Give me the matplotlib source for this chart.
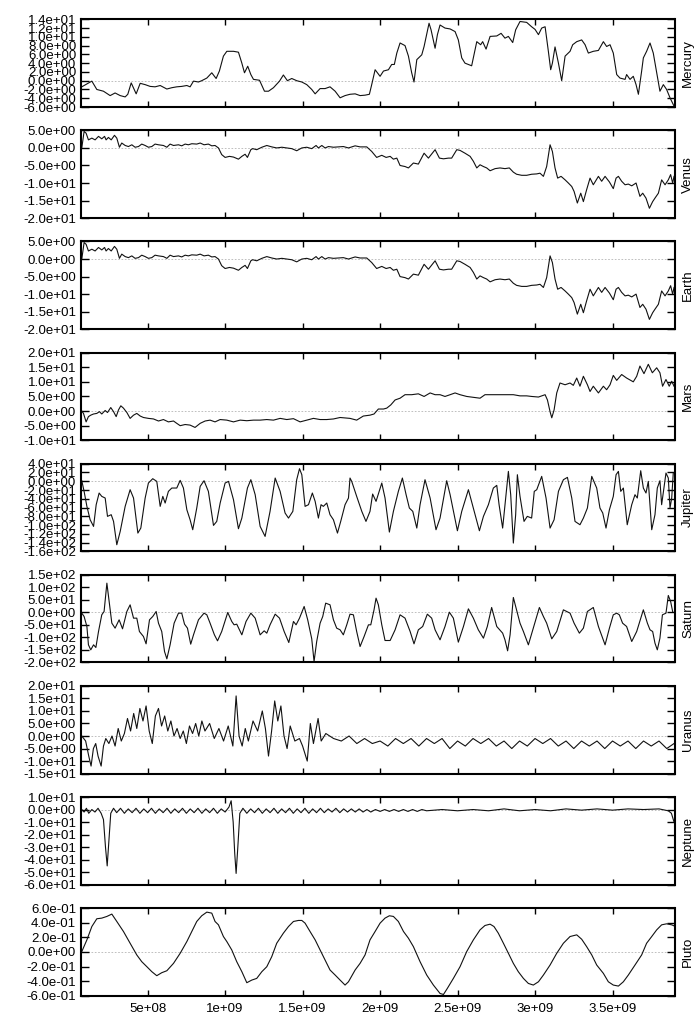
import numpy as np
import matplotlib.pyplot as plt
from matplotlib.ticker import FormatStrFormatter

# time in units of 1e9, value in the panel's own units
mercury = [
    (0.075, -1.4), (0.140, -0.1), (0.172, -2.0), (0.215, -2.4), (0.258, -3.4), (0.290, -2.8),
    (0.323, -3.4), (0.355, -3.7), (0.372, -3.1), (0.394, -0.5), (0.426, -3.0), (0.452, -0.6),
    (0.484, -0.9), (0.516, -1.3), (0.548, -1.4), (0.581, -1.1), (0.624, -1.9), (0.656, -1.6),
    (0.688, -1.4), (0.720, -1.3), (0.753, -1.1), (0.774, -1.4), (0.796, -0.1), (0.828, -0.3),
    (0.849, 0.0), (0.882, 0.6), (0.914, 1.8), (0.942, 0.5), (0.963, 2.2), (0.989, 5.6),
    (1.011, 6.7), (1.054, 6.7), (1.086, 6.5), (1.108, 4.0), (1.125, 1.8), (1.146, 3.3),
    (1.166, 1.4), (1.183, 0.3), (1.222, 0.1), (1.254, -2.4), (1.280, -2.4), (1.312, -1.6),
    (1.351, -0.1), (1.376, 1.3), (1.402, 0.0), (1.430, 0.5), (1.462, 0.0), (1.495, -0.3),
    (1.527, -0.9), (1.559, -2.0), (1.581, -3.0), (1.613, -1.8), (1.645, -1.8), (1.677, -1.4),
    (1.710, -2.4), (1.742, -3.9), (1.774, -3.4), (1.806, -3.1), (1.839, -3.0), (1.871, -3.4),
    (1.903, -3.3), (1.931, -3.1), (1.946, -0.9), (1.968, 2.5), (2.000, 1.0), (2.022, 2.2),
    (2.054, 2.5), (2.075, 3.7), (2.092, 3.7), (2.108, 6.3), (2.129, 8.6), (2.161, 8.0),
    (2.183, 5.6), (2.204, 1.8), (2.219, -0.3), (2.237, 4.8), (2.269, 5.9), (2.284, 7.8),
    (2.316, 13.1), (2.329, 11.6), (2.355, 7.4), (2.370, 10.5), (2.387, 12.7), (2.419, 12.0),
    (2.452, 11.8), (2.484, 11.2), (2.505, 9.3), (2.527, 5.2), (2.548, 4.0), (2.591, 3.4),
    (2.624, 8.9), (2.649, 8.2), (2.662, 8.9), (2.684, 7.2), (2.710, 10.1), (2.753, 10.2),
    (2.781, 10.8), (2.806, 9.7), (2.828, 10.1), (2.856, 8.7), (2.875, 11.6), (2.903, 13.5),
    (2.946, 13.3), (2.978, 12.3), (3.000, 11.7), (3.022, 10.5), (3.043, 12.0), (3.065, 12.3),
    (3.086, 6.7), (3.101, 2.5), (3.112, 4.0), (3.129, 7.7), (3.151, 4.0), (3.172, 0.0),
    (3.194, 5.6), (3.226, 6.7), (3.243, 8.2), (3.269, 8.9), (3.301, 9.3), (3.323, 8.2),
    (3.344, 6.3), (3.376, 6.7), (3.409, 6.9), (3.441, 8.9), (3.462, 7.8), (3.484, 8.2),
    (3.505, 6.3), (3.527, 1.4), (3.548, 0.6), (3.581, 0.3), (3.591, 1.4), (3.613, 0.3),
    (3.634, 1.0), (3.652, -0.9), (3.667, -3.1), (3.688, 2.2), (3.699, 5.2), (3.720, 6.7),
    (3.742, 8.6), (3.763, 6.3), (3.785, 1.8), (3.806, -2.4), (3.828, -0.9), (3.849, -2.0),
    (3.871, -3.9), (3.897, -5.8),
]

venus = [
    (0.075, 0.0), (0.090, 4.7), (0.103, 4.2), (0.118, 2.3), (0.140, 2.8), (0.161, 2.3),
    (0.183, 3.3), (0.204, 2.6), (0.222, 3.3), (0.232, 2.3), (0.247, 3.0), (0.265, 2.3),
    (0.286, 3.6), (0.301, 2.8), (0.318, 0.2), (0.333, 1.4), (0.355, 0.7), (0.376, 0.4),
    (0.398, 0.9), (0.419, 0.2), (0.441, 0.4), (0.462, 1.1), (0.484, 0.7), (0.505, 0.2),
    (0.527, 0.4), (0.548, 1.1), (0.570, 0.9), (0.602, 0.7), (0.624, 0.2), (0.645, 1.1),
    (0.667, 0.7), (0.699, 0.9), (0.720, 0.6), (0.742, 1.1), (0.763, 0.9), (0.785, 1.2),
    (0.817, 1.1), (0.839, 1.4), (0.864, 0.9), (0.892, 1.1), (0.914, 0.6), (0.935, 0.7),
    (0.957, 0.0), (0.978, -1.9), (1.000, -2.7), (1.028, -2.4), (1.054, -2.6), (1.086, -3.2),
    (1.108, -2.4), (1.129, -1.8), (1.144, -2.7), (1.166, -0.5), (1.178, -0.2), (1.204, -0.5),
    (1.237, 0.2), (1.269, 0.7), (1.301, 0.3), (1.333, 0.0), (1.366, 0.2), (1.398, 0.0),
    (1.430, -0.2), (1.462, -0.8), (1.495, 0.0), (1.527, 0.2), (1.559, -0.2), (1.587, 0.7),
    (1.602, 0.0), (1.624, 0.7), (1.645, 0.0), (1.667, 0.4), (1.699, 0.2), (1.731, 0.3),
    (1.763, 0.4), (1.796, 0.0), (1.839, 0.6), (1.871, 0.3), (1.914, 0.3), (1.946, -1.0),
    (1.978, -2.7), (2.011, -2.1), (2.039, -2.7), (2.065, -2.4), (2.086, -3.2), (2.108, -2.9),
    (2.129, -5.0), (2.161, -5.3), (2.183, -5.7), (2.215, -4.3), (2.247, -4.6), (2.284, -1.5),
    (2.312, -2.9), (2.355, -0.5), (2.383, -2.9), (2.409, -3.1), (2.441, -2.9), (2.462, -2.9),
    (2.495, -0.5), (2.516, -0.7), (2.548, -1.5), (2.581, -2.4), (2.602, -3.8), (2.624, -5.7),
    (2.645, -4.8), (2.667, -5.3), (2.688, -5.7), (2.710, -6.5), (2.742, -5.9), (2.774, -5.7),
    (2.806, -5.9), (2.834, -5.7), (2.860, -6.9), (2.881, -7.5), (2.914, -7.8), (2.946, -7.8),
    (2.978, -7.5), (3.011, -7.4), (3.032, -7.2), (3.054, -8.1), (3.075, -5.3), (3.097, 0.9),
    (3.112, -1.0), (3.129, -5.7), (3.146, -8.6), (3.168, -8.1), (3.194, -9.1), (3.215, -10.0),
    (3.237, -11.0), (3.252, -12.4), (3.273, -15.7), (3.295, -12.9), (3.312, -15.3), (3.333, -11.9),
    (3.355, -8.6), (3.376, -10.5), (3.409, -8.1), (3.430, -9.5), (3.452, -8.1), (3.480, -9.7),
    (3.505, -11.6), (3.523, -8.6), (3.538, -8.1), (3.559, -9.5), (3.581, -10.5), (3.602, -10.3),
    (3.624, -10.8), (3.652, -10.0), (3.677, -13.8), (3.695, -12.9), (3.716, -14.3), (3.738, -17.2),
    (3.759, -15.3), (3.774, -14.3), (3.796, -12.9), (3.817, -9.1), (3.839, -10.5), (3.860, -9.1),
    (3.875, -7.6), (3.888, -10.0), (3.897, -8.1),
]

earth = list(venus)

mars = [
    (0.075, 0.0), (0.086, -0.8), (0.103, -3.7), (0.118, -1.9), (0.133, -1.4), (0.151, -1.0),
    (0.172, -0.8), (0.189, -0.2), (0.204, -1.0), (0.226, 0.2), (0.241, -0.5), (0.262, 1.2),
    (0.280, -0.2), (0.297, -1.9), (0.312, 0.4), (0.327, 1.8), (0.344, 1.0), (0.366, -0.5),
    (0.387, -2.5), (0.409, -1.4), (0.430, -0.8), (0.452, -1.7), (0.473, -2.2), (0.505, -2.5),
    (0.538, -2.7), (0.570, -3.4), (0.602, -2.9), (0.634, -3.7), (0.667, -3.4), (0.688, -4.2),
    (0.710, -5.0), (0.742, -4.6), (0.774, -4.8), (0.806, -5.6), (0.839, -4.2), (0.871, -3.4),
    (0.903, -3.1), (0.935, -3.7), (0.968, -2.9), (1.011, -3.1), (1.054, -3.7), (1.097, -3.1),
    (1.140, -3.3), (1.183, -3.1), (1.226, -3.1), (1.269, -2.9), (1.312, -3.1), (1.355, -2.5),
    (1.398, -2.9), (1.441, -2.6), (1.484, -3.7), (1.527, -3.1), (1.570, -2.5), (1.613, -2.9),
    (1.656, -2.9), (1.699, -2.7), (1.742, -2.2), (1.806, -2.5), (1.849, -3.1), (1.892, -1.7),
    (1.935, -1.4), (1.961, -1.0), (1.989, 0.7), (2.022, 0.7), (2.043, 1.0), (2.069, 2.1),
    (2.097, 3.8), (2.129, 4.4), (2.161, 5.6), (2.204, 5.6), (2.247, 5.9), (2.284, 5.0),
    (2.323, 6.2), (2.355, 5.6), (2.387, 5.6), (2.419, 5.0), (2.452, 5.6), (2.484, 6.2),
    (2.516, 5.6), (2.559, 5.0), (2.602, 4.7), (2.645, 4.4), (2.677, 5.6), (2.731, 5.6),
    (2.796, 5.6), (2.860, 5.6), (2.903, 5.2), (2.946, 5.2), (2.978, 5.0), (3.022, 4.8),
    (3.065, 5.6), (3.080, 3.8), (3.097, -0.2), (3.108, -2.3), (3.123, 0.4), (3.140, 6.2),
    (3.161, 9.6), (3.194, 9.0), (3.226, 9.6), (3.247, 8.8), (3.269, 11.3), (3.290, 8.5),
    (3.312, 11.9), (3.338, 9.0), (3.355, 6.7), (3.376, 8.5), (3.409, 6.2), (3.441, 8.5),
    (3.462, 7.3), (3.484, 9.0), (3.505, 12.2), (3.527, 10.5), (3.559, 12.5), (3.591, 11.3),
    (3.634, 10.0), (3.656, 11.9), (3.677, 15.4), (3.703, 12.8), (3.731, 16.0), (3.757, 13.1),
    (3.785, 14.8), (3.806, 13.1), (3.823, 8.5), (3.845, 10.8), (3.866, 8.5), (3.882, 10.2),
    (3.897, 8.5),
]

jupiter = [
    (0.075, 1.2), (0.090, -23.1), (0.108, -57.3), (0.129, -87.8), (0.151, -103.0), (0.168, -53.5),
    (0.187, -26.9), (0.204, -34.5), (0.226, -38.3), (0.241, -80.1), (0.265, -76.3), (0.280, -91.6),
    (0.301, -144.8), (0.323, -114.4), (0.355, -57.3), (0.387, -19.3), (0.409, -38.3), (0.437, -118.2),
    (0.456, -106.8), (0.484, -38.3), (0.505, -4.1), (0.533, 5.8), (0.559, -0.3), (0.581, -57.3),
    (0.598, -34.5), (0.613, -49.7), (0.634, -23.1), (0.656, -15.5), (0.688, -15.5), (0.710, 2.0),
    (0.731, -15.5), (0.753, -64.9), (0.774, -87.8), (0.791, -110.6), (0.817, -61.1), (0.839, -11.7),
    (0.864, 1.2), (0.892, -23.1), (0.925, -100.7), (0.946, -91.6), (0.968, -49.7), (1.000, -4.1),
    (1.022, -0.3), (1.054, -42.1), (1.086, -108.3), (1.108, -84.0), (1.144, -15.5), (1.166, 3.5),
    (1.194, -30.7), (1.226, -103.0), (1.258, -125.8), (1.290, -68.7), (1.323, 7.3), (1.355, -23.1),
    (1.387, -72.5), (1.409, -84.0), (1.437, -68.7), (1.462, 3.5), (1.480, 28.6), (1.495, 14.9),
    (1.516, -57.3), (1.538, -53.5), (1.563, -26.9), (1.581, -45.9), (1.602, -84.0), (1.619, -53.5),
    (1.634, -57.3), (1.656, -49.7), (1.677, -76.3), (1.699, -87.8), (1.725, -118.2), (1.746, -91.6),
    (1.774, -53.5), (1.796, -38.3), (1.806, 7.3), (1.817, -0.3), (1.849, -34.5), (1.882, -68.7),
    (1.909, -91.6), (1.935, -68.7), (1.952, -29.2), (1.974, -45.9), (2.011, -4.1), (2.032, -38.3),
    (2.060, -115.9), (2.086, -68.7), (2.118, -23.1), (2.144, 7.3), (2.168, -30.7), (2.189, -61.1),
    (2.211, -68.7), (2.237, -106.8), (2.258, -53.5), (2.290, 3.5), (2.323, -38.3), (2.361, -110.6),
    (2.387, -84.0), (2.430, 1.2), (2.452, -30.7), (2.499, -112.9), (2.527, -68.7), (2.570, -19.3),
    (2.613, -76.3), (2.641, -112.9), (2.667, -80.1), (2.699, -53.5), (2.731, -15.5), (2.753, -9.4),
    (2.768, -53.5), (2.791, -106.8), (2.806, -53.5), (2.828, 22.5), (2.843, -30.7), (2.860, -141.0),
    (2.875, -76.3), (2.886, 14.9), (2.903, -34.5), (2.929, -91.6), (2.950, -80.1), (2.978, -84.0),
    (2.995, -23.1), (3.011, -19.3), (3.043, 11.1), (3.071, -38.3), (3.097, -106.8), (3.123, -87.8),
    (3.151, -23.1), (3.183, 3.5), (3.209, 8.8), (3.237, -38.3), (3.258, -91.6), (3.290, -99.2),
    (3.312, -84.0), (3.338, -61.1), (3.366, 11.1), (3.398, -15.5), (3.419, -61.1), (3.437, -72.5),
    (3.458, -106.8), (3.480, -64.9), (3.505, -34.5), (3.523, 14.9), (3.538, 22.5), (3.553, -23.1),
    (3.570, -15.5), (3.595, -99.2), (3.624, -53.5), (3.645, -30.7), (3.660, -38.3), (3.682, 24.0),
    (3.699, -15.5), (3.716, -26.9), (3.731, -0.3), (3.753, -110.6), (3.774, -76.3), (3.789, -15.5),
    (3.806, 1.2), (3.817, -53.5), (3.832, -15.5), (3.845, 18.7), (3.860, 7.3), (3.871, -61.1),
    (3.882, -38.3), (3.892, 18.7),
]

saturn = [
    (0.075, -3.1), (0.090, -16.4), (0.108, -56.3), (0.118, -129.5), (0.133, -149.5), (0.151, -129.5),
    (0.166, -140.1), (0.183, -76.3), (0.204, -9.7), (0.219, 3.6), (0.237, 116.7), (0.254, 30.2),
    (0.269, -43.0), (0.290, -62.9), (0.316, -29.7), (0.338, -65.6), (0.366, 3.6), (0.387, 30.2),
    (0.409, -23.0), (0.430, -23.0), (0.447, -76.3), (0.473, -96.2), (0.490, -125.5), (0.512, -29.7),
    (0.533, -16.4), (0.555, 3.6), (0.570, -43.0), (0.591, -76.3), (0.609, -156.1), (0.624, -185.4),
    (0.645, -129.5), (0.671, -43.0), (0.699, -3.1), (0.720, -3.1), (0.738, -47.0), (0.757, -62.9),
    (0.778, -126.8), (0.796, -89.6), (0.828, -29.7), (0.864, -3.1), (0.882, -9.7), (0.903, -43.0),
    (0.931, -89.6), (0.951, -113.5), (0.978, -76.3), (1.017, -0.4), (1.043, -36.3), (1.058, -49.6),
    (1.075, -47.0), (1.108, -89.6), (1.135, -36.3), (1.166, -3.1), (1.194, -23.0), (1.226, -89.6),
    (1.252, -73.6), (1.269, -82.9), (1.290, -49.6), (1.323, -7.1), (1.351, -23.0), (1.381, -76.3),
    (1.411, -120.2), (1.441, -36.3), (1.458, -49.6), (1.480, -23.0), (1.510, 23.6), (1.533, -29.7),
    (1.559, -105.5), (1.574, -196.0), (1.591, -116.2), (1.613, -43.0), (1.630, -16.4), (1.649, 36.9),
    (1.677, 30.2), (1.699, -29.7), (1.720, -62.9), (1.742, -69.6), (1.763, -89.6), (1.785, -49.6),
    (1.806, -7.1), (1.828, -9.7), (1.849, -76.3), (1.871, -136.2), (1.897, -96.2), (1.925, -49.6),
    (1.940, -49.6), (1.961, 10.2), (1.974, 56.8), (1.989, 30.2), (2.011, -49.6), (2.032, -112.2),
    (2.065, -112.2), (2.097, -69.6), (2.129, -9.7), (2.161, -23.0), (2.194, -76.3), (2.219, -125.5),
    (2.247, -69.6), (2.275, -56.3), (2.305, -7.1), (2.333, -23.0), (2.355, -69.6), (2.387, -109.5),
    (2.419, -56.3), (2.447, 0.9), (2.473, -23.0), (2.505, -118.8), (2.538, -56.3), (2.570, 14.2),
    (2.602, -23.0), (2.634, -69.6), (2.667, -102.9), (2.692, -56.3), (2.720, 19.6), (2.753, -56.3),
    (2.791, -82.9), (2.806, -109.5), (2.823, -153.4), (2.839, -89.6), (2.860, 59.5), (2.881, 10.2),
    (2.903, -43.0), (2.925, -76.3), (2.957, -129.5), (2.989, -62.9), (3.028, 19.6), (3.054, -16.4),
    (3.075, -43.0), (3.108, -105.5), (3.140, -76.3), (3.183, 10.2), (3.226, -3.1), (3.252, -43.0),
    (3.286, -82.9), (3.312, -62.9), (3.338, 3.6), (3.376, 19.6), (3.409, -56.3), (3.452, -129.5),
    (3.480, -62.9), (3.505, -9.7), (3.527, -3.1), (3.544, -9.7), (3.565, -43.0), (3.591, -56.3),
    (3.624, -116.2), (3.656, -76.3), (3.699, 10.2), (3.725, -43.0), (3.742, -69.6), (3.759, -76.3),
    (3.774, -122.8), (3.789, -149.5), (3.806, -102.9), (3.822, -9.7), (3.845, -3.1), (3.860, 67.5),
    (3.875, 43.5), (3.888, 3.6),
]

uranus = [
    (0.075, 0.0), (0.100, -2.0), (0.120, -8.0), (0.135, -12.0), (0.150, -5.0), (0.165, -3.0),
    (0.180, -8.0), (0.200, -12.0), (0.215, -4.0), (0.230, -1.0), (0.250, -3.0), (0.270, 0.0),
    (0.290, -4.0), (0.310, 3.0), (0.330, -2.0), (0.350, 1.0), (0.370, 7.0), (0.390, 2.0),
    (0.410, 9.0), (0.430, 3.0), (0.450, 11.0), (0.470, 6.0), (0.490, 12.0), (0.510, 2.0),
    (0.530, -3.0), (0.550, 8.0), (0.570, 11.0), (0.590, 4.0), (0.610, 8.0), (0.630, 2.0),
    (0.650, 6.0), (0.670, 0.0), (0.690, 3.0), (0.710, -1.0), (0.730, 2.0), (0.750, -3.0),
    (0.770, 4.0), (0.790, 1.0), (0.810, 5.0), (0.830, 0.0), (0.850, 6.0), (0.870, 2.0),
    (0.900, 5.0), (0.930, -1.0), (0.960, 3.0), (0.990, -2.0), (1.020, 4.0), (1.050, -4.0),
    (1.071, 16.0), (1.090, 0.0), (1.110, -4.0), (1.130, 3.0), (1.150, -2.0), (1.180, 6.0),
    (1.210, 2.0), (1.240, 10.0), (1.260, 3.0), (1.280, -8.0), (1.300, 2.0), (1.320, 14.0),
    (1.340, 6.0), (1.360, 12.0), (1.380, 0.0), (1.400, -5.0), (1.420, 4.0), (1.450, -2.0),
    (1.480, -1.0), (1.500, -4.0), (1.530, -10.0), (1.550, 5.0), (1.570, -3.0), (1.600, 7.0),
    (1.620, -2.0), (1.650, 1.0), (1.700, -1.0), (1.750, -2.0), (1.800, 0.0), (1.850, -3.0),
    (1.900, -1.0), (1.950, -3.0), (2.000, -2.0), (2.050, -4.0), (2.100, -1.0), (2.150, -3.0),
    (2.200, -1.0), (2.250, -4.0), (2.300, -1.0), (2.350, -3.0), (2.400, -1.0), (2.450, -5.0),
    (2.500, -2.0), (2.550, -4.0), (2.600, -1.0), (2.650, -3.0), (2.700, -1.0), (2.750, -4.0),
    (2.800, -2.0), (2.850, -5.0), (2.900, -2.0), (2.950, -4.0), (3.000, -1.0), (3.050, -3.0),
    (3.100, -1.0), (3.150, -4.0), (3.200, -2.0), (3.250, -5.0), (3.300, -2.0), (3.350, -4.0),
    (3.400, -2.0), (3.450, -5.0), (3.500, -2.0), (3.550, -4.0), (3.600, -2.0), (3.650, -5.0),
    (3.700, -2.0), (3.750, -4.0), (3.800, -2.0), (3.850, -5.0), (3.897, -3.0),
]

neptune = [
    (0.075, 0.0), (0.090, -2.0), (0.105, 1.0), (0.120, -3.0), (0.140, 0.0), (0.160, -2.0),
    (0.180, 1.0), (0.200, -3.0), (0.215, -8.0), (0.228, -30.0), (0.239, -45.0), (0.250, -25.0),
    (0.262, -3.0), (0.280, 1.0), (0.300, -2.5), (0.325, 1.0), (0.350, -3.0), (0.375, 0.5),
    (0.400, -2.5), (0.425, 1.0), (0.450, -3.0), (0.475, 0.5), (0.500, -2.5), (0.525, 1.0),
    (0.550, -3.0), (0.575, 0.5), (0.600, -2.5), (0.625, 1.0), (0.650, -3.0), (0.675, 0.5),
    (0.700, -2.5), (0.725, 1.0), (0.750, -3.0), (0.775, 0.5), (0.800, -2.5), (0.825, 1.0),
    (0.850, -3.0), (0.875, 0.5), (0.900, -2.5), (0.925, 1.0), (0.950, -3.0), (0.975, 0.5),
    (1.000, -2.0), (1.025, 2.0), (1.039, 7.0), (1.052, -10.0), (1.062, -35.0), (1.071, -51.0),
    (1.082, -30.0), (1.095, -3.0), (1.115, 1.0), (1.140, -3.0), (1.165, 0.5), (1.190, -2.5),
    (1.215, 1.0), (1.240, -3.0), (1.265, 0.5), (1.290, -2.5), (1.315, 1.0), (1.340, -3.0),
    (1.365, 0.5), (1.390, -2.5), (1.415, 1.0), (1.440, -3.0), (1.465, 0.5), (1.490, -2.5),
    (1.515, 1.0), (1.540, -3.0), (1.565, 0.5), (1.590, -2.5), (1.615, 1.0), (1.640, -2.5),
    (1.665, 0.5), (1.690, -2.0), (1.715, 1.0), (1.740, -2.5), (1.765, 0.5), (1.790, -2.0),
    (1.815, 0.5), (1.840, -2.0), (1.865, 0.5), (1.890, -2.0), (1.915, 0.0), (1.940, -2.0),
    (1.970, 0.0), (2.000, -1.5), (2.030, 0.0), (2.060, -1.5), (2.090, 0.0), (2.120, -1.5),
    (2.150, 0.0), (2.180, -1.5), (2.210, 0.0), (2.240, -1.5), (2.270, 0.0), (2.300, -1.0),
    (2.400, 0.0), (2.500, -1.0), (2.600, 0.0), (2.700, -1.0), (2.800, 0.5), (2.900, -1.0),
    (3.000, 0.0), (3.100, -1.0), (3.200, 0.5), (3.300, -0.5), (3.400, 0.5), (3.500, -0.5),
    (3.600, 0.5), (3.700, 0.0), (3.800, 0.5), (3.860, -1.0), (3.880, -3.0), (3.897, -10.0),
]

pluto = [
    (0.075, 0.005), (0.108, 0.165), (0.140, 0.348), (0.172, 0.454), (0.204, 0.463), (0.237, 0.486),
    (0.269, 0.518), (0.301, 0.417), (0.344, 0.280), (0.387, 0.119), (0.430, -0.041), (0.462, -0.133),
    (0.495, -0.202), (0.527, -0.270), (0.559, -0.325), (0.591, -0.284), (0.624, -0.257), (0.667, -0.156),
    (0.710, -0.018), (0.753, 0.142), (0.785, 0.280), (0.817, 0.417), (0.849, 0.495), (0.882, 0.545),
    (0.914, 0.531), (0.935, 0.417), (0.957, 0.371), (0.989, 0.211), (1.011, 0.142), (1.043, 0.027),
    (1.075, -0.133), (1.108, -0.270), (1.140, -0.421), (1.172, -0.385), (1.204, -0.362), (1.237, -0.270),
    (1.269, -0.202), (1.301, -0.064), (1.333, 0.119), (1.376, 0.257), (1.409, 0.348), (1.441, 0.417),
    (1.473, 0.431), (1.495, 0.431), (1.516, 0.394), (1.548, 0.280), (1.581, 0.165), (1.613, 0.027),
    (1.645, -0.110), (1.677, -0.247), (1.710, -0.316), (1.742, -0.385), (1.774, -0.453), (1.796, -0.408),
    (1.839, -0.247), (1.871, -0.156), (1.903, -0.041), (1.935, 0.165), (1.968, 0.280), (2.000, 0.394),
    (2.032, 0.463), (2.060, 0.495), (2.086, 0.486), (2.118, 0.417), (2.151, 0.280), (2.183, 0.188),
    (2.215, 0.073), (2.258, -0.133), (2.301, -0.316), (2.344, -0.453), (2.387, -0.568), (2.409, -0.582),
    (2.434, -0.499), (2.473, -0.362), (2.516, -0.202), (2.559, 0.005), (2.602, 0.165), (2.645, 0.302),
    (2.677, 0.362), (2.710, 0.380), (2.735, 0.348), (2.763, 0.257), (2.796, 0.119), (2.828, -0.018),
    (2.860, -0.156), (2.892, -0.270), (2.925, -0.362), (2.957, -0.431), (2.989, -0.453), (3.022, -0.408),
    (3.054, -0.316), (3.097, -0.179), (3.140, -0.018), (3.183, 0.119), (3.226, 0.211), (3.269, 0.234),
    (3.301, 0.174), (3.333, 0.073), (3.366, -0.041), (3.398, -0.179), (3.441, -0.293), (3.473, -0.408),
    (3.505, -0.453), (3.538, -0.467), (3.570, -0.408), (3.602, -0.316), (3.645, -0.179), (3.688, -0.041),
    (3.720, 0.119), (3.753, 0.211), (3.785, 0.302), (3.817, 0.371), (3.849, 0.385), (3.882, 0.371),
    (3.897, 0.357),
]

names = ["Mercury", "Venus", "Earth", "Mars", "Jupiter", "Saturn", "Uranus", "Neptune", "Pluto"]
series = [mercury, venus, earth, mars, jupiter, saturn, uranus, neptune, pluto]
y_limits = [(-6, 14), (-20, 5), (-20, 5), (-10, 20), (-160, 40), (-200, 150), (-15, 20), (-60, 10), (-0.6, 0.6)]
y_steps = [2, 5, 5, 5, 20, 50, 5, 10, 0.2]
x_ticks = [5e8, 1e9, 1.5e9, 2e9, 2.5e9, 3e9, 3.5e9]

plt.rcParams.update({
    "font.family": "Liberation Sans",
    "font.size": 9.5,
})

W, H = 700, 1021
fig = plt.figure(figsize=(W / 100, H / 100), dpi=100)
left_px, right_px = 81, 674.5
panel_h = 87.7
first_top = 19.3
gap = 111.1

for i, (name, data, ylim, step) in enumerate(zip(names, series, y_limits, y_steps)):
    top = first_top + i * gap
    ax = fig.add_axes([left_px / W, 1 - (top + panel_h) / H,
                       (right_px - left_px) / W, panel_h / H])
    t, v = np.array(data).T
    ax.axhline(0, color="#b4b4b4", lw=0.6, dashes=(2, 2), zorder=1)
    ax.plot(t * 1e9, v, color="#111111", lw=0.8, zorder=2)
    ax.set_xlim(0.07e9, 3.9e9)
    ax.set_ylim(*ylim)
    n = int(round((ylim[1] - ylim[0]) / step))
    ticks = np.round(np.linspace(ylim[0], ylim[1], n + 1), 6) + 0.0
    ax.set_yticks(ticks)
    ax.yaxis.set_major_formatter(FormatStrFormatter("%.1e"))
    ax.set_xticks(x_ticks)
    if i == len(names) - 1:
        ax.set_xticklabels(["%g" % x for x in x_ticks])
    else:
        ax.set_xticklabels([])
    ax.tick_params(axis="y", direction="in", left=True, right=True, length=6, width=1.0, pad=3.5)
    ax.tick_params(axis="x", direction="in", top=True, bottom=True, length=4.5, width=1.0, pad=5)
    for sp in ax.spines.values():
        sp.set_linewidth(1.5)
    ax.text(1.0227, 0.5, name, transform=ax.transAxes, rotation=90,
            ha="center", va="center")

fig.savefig("out.png", dpi=100)
